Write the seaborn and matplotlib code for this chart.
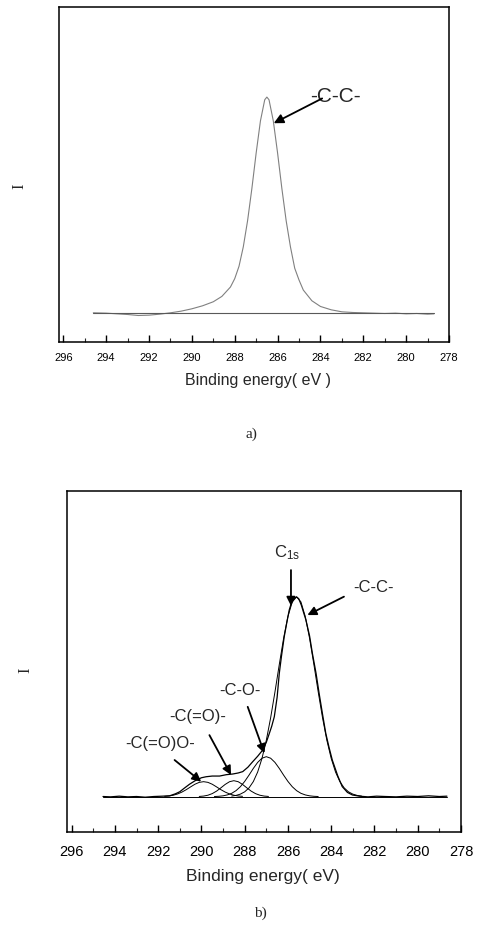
import matplotlib
matplotlib.use('Agg')
import matplotlib.pyplot as plt
import seaborn as sns
from matplotlib.ticker import MultipleLocator

# ---------------- data: panel a ----------------
a_energy = [294.6, 294.0, 293.5, 293.0, 292.5, 292.0, 291.5, 291.0, 290.5, 290.0,
            289.5, 289.0, 288.6, 288.2, 288.0, 287.8, 287.6, 287.4, 287.2, 287.0,
            286.8, 286.6, 286.5, 286.4, 286.2, 286.0, 285.8, 285.6, 285.4, 285.2,
            285.0, 284.8, 284.4, 284.0, 283.5, 283.0, 282.5, 282.0, 281.5, 281.0,
            280.5, 280.0, 279.5, 279.0, 278.7]
a_intensity = [8.7, 8.6, 8.4, 8.2, 7.9, 8.0, 8.3, 8.7, 9.2, 9.9,
               10.8, 12.0, 13.6, 16.4, 18.9, 22.6, 28.4, 36.2, 45.8, 56.4,
               66.0, 72.3, 73.1, 72.3, 66.0, 56.4, 45.8, 36.2, 28.4, 22.0,
               18.5, 15.5, 12.3, 10.6, 9.6, 9.0, 8.8, 8.7, 8.6, 8.5,
               8.6, 8.4, 8.5, 8.3, 8.4]
a_base_energy = [294.6, 278.7]
a_base_intensity = [8.5, 8.5]

# ---------------- data: panel b ----------------
b_energy = [294.55, 294.2, 293.8, 293.4, 293.0, 292.6, 292.2, 291.8, 291.47, 291.2,
            291.0, 290.8, 290.55, 290.3, 290.0, 289.78, 289.5, 289.16, 288.85, 288.55,
            288.3, 288.09, 287.85, 287.63, 287.4, 287.17, 287.0, 286.86, 286.75, 286.63,
            286.5, 286.4, 286.3, 286.17, 286.05, 285.94, 285.82, 285.71, 285.6, 285.5,
            285.38, 285.25, 285.17, 285.0, 284.87, 284.7, 284.56, 284.4, 284.25, 284.1,
            283.95, 283.7, 283.49, 283.25, 283.02, 282.7, 282.3, 281.9, 281.5, 281.0,
            280.5, 280.0, 279.5, 279.0, 278.65]
b_intensity = [10.4, 10.3, 10.5, 10.3, 10.4, 10.2, 10.4, 10.5, 10.6, 11.2,
               11.8, 12.8, 14.0, 15.0, 15.9, 16.2, 16.4, 16.4, 16.8, 17.0,
               17.3, 17.7, 19.0, 20.6, 22.2, 24.0, 26.3, 28.9, 31.0, 33.8,
               39.5, 46.5, 51.5, 57.3, 61.5, 65.1, 67.6, 68.5, 68.9, 68.4,
               66.5, 63.8, 62.2, 57.5, 52.4, 46.5, 40.7, 34.5, 28.9, 24.8,
               21.1, 16.5, 13.3, 11.6, 10.85, 10.5, 10.3, 10.5, 10.4, 10.3,
               10.5, 10.4, 10.6, 10.4, 10.5]
b_base_energy = [294.55, 278.65]
b_base_intensity = [10.35, 10.35]

cc_energy = [288.6, 288.4, 288.2, 288.0, 287.8, 287.6, 287.4, 287.2, 287.0, 286.8,
             286.6, 286.4, 286.2, 286.0, 285.8, 285.6, 285.4, 285.2, 285.0, 284.8,
             284.6, 284.4, 284.2, 284.0, 283.8, 283.6, 283.4, 283.2, 283.0, 282.8, 282.6]
cc_intensity = [10.53, 10.72, 11.10, 11.77, 12.92, 14.78, 17.58, 21.57, 26.88, 33.47,
                41.07, 49.11, 56.80, 63.20, 67.46, 68.95, 67.46, 63.20, 56.80, 49.11,
                41.07, 33.47, 26.88, 21.57, 17.58, 14.78, 12.92, 11.77, 11.10, 10.72, 10.53]

co_energy = [289.4, 289.2, 289.0, 288.8, 288.6, 288.4, 288.2, 288.0, 287.8, 287.6,
             287.4, 287.2, 287.0, 286.8, 286.6, 286.4, 286.2, 286.0, 285.8, 285.6,
             285.4, 285.2, 285.0, 284.8, 284.6]
co_intensity = [10.40, 10.46, 10.60, 10.87, 11.34, 12.12, 13.27, 14.82, 16.67, 18.64,
                20.40, 21.63, 22.08, 21.63, 20.40, 18.64, 16.67, 14.82, 13.27, 12.12,
                11.34, 10.87, 10.60, 10.46, 10.40]

cdo_energy = [290.1, 289.9, 289.7, 289.5, 289.3, 289.1, 288.9, 288.7, 288.5, 288.3,
              288.1, 287.9, 287.7, 287.5, 287.3, 287.1, 286.9]
cdo_intensity = [10.42, 10.53, 10.78, 11.25, 11.98, 12.94, 13.95, 14.74, 15.04, 14.74,
                 13.95, 12.94, 11.98, 11.25, 10.78, 10.53, 10.42]

cdoo_energy = [291.7, 291.5, 291.3, 291.1, 290.9, 290.7, 290.5, 290.3, 290.1, 289.9,
               289.7, 289.5, 289.3, 289.1, 288.9, 288.7, 288.5, 288.3, 288.1]
cdoo_intensity = [10.45, 10.56, 10.78, 11.15, 11.70, 12.41, 13.22, 14.00, 14.55, 14.75,
                  14.55, 14.00, 13.22, 12.41, 11.70, 11.15, 10.78, 10.56, 10.45]

xticks = [296, 294, 292, 290, 288, 286, 284, 282, 280, 278]

# ---------------- style ----------------
sns.set_style('white')
plt.rcParams['font.family'] = ['Liberation Sans', 'DejaVu Sans']
plt.rcParams['mathtext.fontset'] = 'custom'
plt.rcParams['mathtext.rm'] = 'Liberation Sans'
plt.rcParams['mathtext.it'] = 'Liberation Sans:italic'

fig = plt.figure(figsize=(4.79, 9.30), dpi=100)
ax1 = fig.add_axes([0.1232, 0.6323, 0.8142, 0.3602])
ax2 = fig.add_axes([0.1405, 0.1054, 0.8219, 0.3667])


def style(ax, fs, pad):
    ax.set_xlim(296.2, 278.0)
    ax.set_ylim(0, 100)
    ax.set_xticks(xticks)
    ax.set_xticklabels([str(t) for t in xticks])
    ax.xaxis.set_minor_locator(MultipleLocator(1))
    ax.tick_params(axis='x', which='major', direction='in', length=5, width=1,
                   labelsize=fs, pad=pad, bottom=True, top=False, colors='black')
    ax.tick_params(axis='x', which='minor', direction='in', length=3, width=0.8,
                   bottom=True, top=False)
    ax.set_yticks([])
    for s in ax.spines.values():
        s.set_visible(True)
        s.set_color('black')
        s.set_linewidth(1.1)


# panel a
sns.lineplot(x=a_energy, y=a_intensity, ax=ax1, color='0.5', lw=0.8, estimator=None)
sns.lineplot(x=a_base_energy, y=a_base_intensity, ax=ax1, color='0.35', lw=0.8, estimator=None)
style(ax1, 8, 8)
ax1.set_xlabel('Binding energy( eV )', fontsize=11.5)
ax1.xaxis.set_label_coords(0.509, -0.116)
ax1.xaxis.label.set_va('center')
ax1.set_ylabel('I', fontfamily='Liberation Serif', fontsize=12)
ax1.yaxis.set_label_coords(-0.1026, 0.466)
ax1.yaxis.label.set_va('center')

arrow = dict(arrowstyle='-|>', mutation_scale=14, color='black', lw=1.3,
             shrinkA=0, shrinkB=0)
ax1.text(283.30, 73.2, '-C-C-', fontsize=15, ha='center', va='center')
ax1.annotate('', xy=(286.18, 65.3), xytext=(283.92, 72.7), arrowprops=arrow)

# panel b
sns.lineplot(x=b_energy, y=b_intensity, ax=ax2, color='black', lw=0.9, estimator=None)
sns.lineplot(x=b_base_energy, y=b_base_intensity, ax=ax2, color='black', lw=0.7, estimator=None)
for e, v in [(cc_energy, cc_intensity), (co_energy, co_intensity),
             (cdo_energy, cdo_intensity), (cdoo_energy, cdoo_intensity)]:
    sns.lineplot(x=e, y=v, ax=ax2, color='black', lw=0.7, estimator=None)
style(ax2, 10.5, 9.5)
ax2.set_xlabel('Binding energy( eV)', fontsize=12.5)
ax2.xaxis.set_label_coords(0.498, -0.132)
ax2.xaxis.label.set_va('center')
ax2.set_ylabel('I', fontfamily='Liberation Serif', fontsize=12)
ax2.yaxis.set_label_coords(-0.107, 0.475)
ax2.yaxis.label.set_va('center')

arrow_b = dict(arrowstyle='-|>', mutation_scale=13, color='black', lw=1.3,
               shrinkA=0, shrinkB=0)
ax2.text(286.63, 81.8, r'C$_{\mathrm{1s}}$', fontsize=12, ha='left', va='center')
ax2.annotate('', xy=(285.86, 66.3), xytext=(285.86, 76.8), arrowprops=arrow_b)
ax2.text(282.03, 71.6, '-C-C-', fontsize=12, ha='center', va='center')
ax2.annotate('', xy=(285.10, 63.6), xytext=(283.41, 69.0), arrowprops=arrow_b)
ax2.text(288.24, 41.6, '-C-O-', fontsize=12, ha='center', va='center')
ax2.annotate('', xy=(287.09, 23.1), xytext=(287.86, 36.7), arrowprops=arrow_b)
ax2.text(290.16, 33.8, '-C(=O)-', fontsize=12, ha='center', va='center')
ax2.annotate('', xy=(288.63, 16.7), xytext=(289.63, 28.4), arrowprops=arrow_b)
ax2.text(291.93, 26.0, '-C(=O)O-', fontsize=12, ha='center', va='center')
ax2.annotate('', xy=(290.01, 14.75), xytext=(291.24, 21.1), arrowprops=arrow_b)

fig.text(251 / 479, 1 - 434 / 930, 'a)', family='Liberation Serif', fontsize=11,
         ha='center', va='center')
fig.text(260 / 479, 1 - 913 / 930, 'b)', family='Liberation Serif', fontsize=11,
         ha='center', va='center')

fig.savefig('out.png', dpi=100, facecolor='white')
